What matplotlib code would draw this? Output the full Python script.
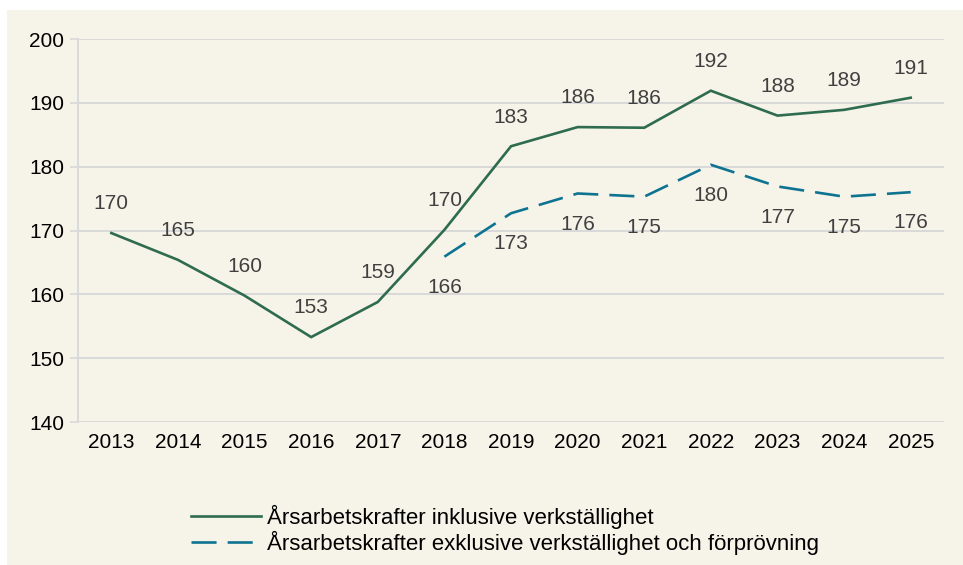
import matplotlib
matplotlib.use("Agg")
import matplotlib.pyplot as plt
from matplotlib.patches import Rectangle

years = [2013, 2014, 2015, 2016, 2017, 2018, 2019, 2020, 2021, 2022, 2023, 2024, 2025]
inkl = [169.6, 165.4, 159.8, 153.3, 158.8, 170.1, 183.2, 186.2, 186.1, 191.9, 188.0, 188.9, 190.8]
exkl_years = [2018, 2019, 2020, 2021, 2022, 2023, 2024, 2025]
exkl = [165.9, 172.7, 175.8, 175.3, 180.3, 176.9, 175.3, 176.0]
yticks = [140, 150, 160, 170, 180, 190, 200]

name_inkl = "Årsarbetskrafter inklusive verkställighet"
name_exkl = "Årsarbetskrafter exklusive verkställighet och förprövning"

bg = "#F6F4E9"
green = "#2E6B4F"
teal = "#0E7391"
grid = "#D9D9D9"

plt.rcParams['font.family'] = ['Liberation Sans', 'DejaVu Sans']

fig = plt.figure(figsize=(9.63, 5.65), dpi=100)
fig.patch.set_facecolor("white")
fig.patches.append(Rectangle((7/963, 0), 1, 1 - 10/565, transform=fig.transFigure,
                             facecolor=bg, edgecolor="none", zorder=-10))

ax = fig.add_axes([78/963, 1 - 422/565, (944 - 78)/963, (422 - 39)/565])
ax.set_facecolor(bg)

ax.plot(years, inkl, color=green, lw=1.9, solid_joinstyle="miter", label=name_inkl)
ax.plot(exkl_years, exkl, color=teal, lw=1.9, dashes=(9.5, 4.2), label=name_exkl)

for x, v in zip(years, inkl):
    ax.annotate(f"{round(v)}", (x, v), xytext=(0, 21), textcoords="offset points",
                ha="center", va="center", fontsize=15, color="#404040")
for x, v in zip(exkl_years, exkl):
    ax.annotate(f"{round(v)}", (x, v), xytext=(0, -22), textcoords="offset points",
                ha="center", va="center", fontsize=15, color="#404040")

ax.set_xlim(2012.5, 2025.5)
ax.set_ylim(140, 200)
ax.set_xticks(years)
ax.set_xticklabels([str(y) for y in years])
ax.set_yticks(yticks)
ax.tick_params(axis="x", length=0, labelsize=15, pad=8)
ax.tick_params(axis="y", length=6, width=1.2, color=grid, labelsize=15, pad=4)
ax.grid(axis="y", color=grid, lw=1.4)
ax.set_axisbelow(True)
for s in ["top", "right", "bottom"]:
    ax.spines[s].set_visible(False)
ax.spines["left"].set_color(grid)
ax.spines["left"].set_linewidth(1.4)

leg = fig.legend(loc="center", bbox_to_anchor=(505/963, 1 - 530/565), frameon=False,
                 fontsize=16, handlelength=3.15, handletextpad=0.3, labelspacing=0.1)

fig.savefig("out.png", dpi=100, facecolor=fig.get_facecolor())
